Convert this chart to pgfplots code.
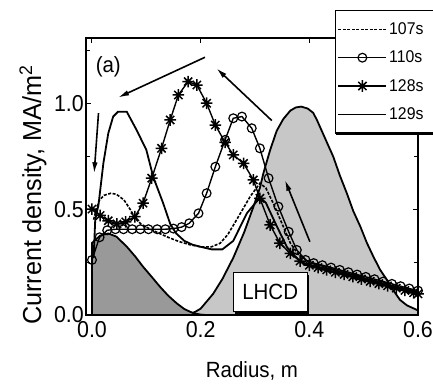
\documentclass[border=0pt]{standalone}
\usepackage{fontspec}
\setmainfont{Liberation Sans}[FakeStretch=0.93]
\newfontfamily\ylfont{Liberation Sans}[FakeStretch=0.97]
\usepackage{pgfplots}
\pgfplotsset{compat=1.18}
\usetikzlibrary{arrows.meta,shadows}

\pgfdeclareplotmark{star8}{%
  \pgfpathmoveto{\pgfqpoint{0pt}{\pgfplotmarksize}}\pgfpathlineto{\pgfqpoint{0pt}{-\pgfplotmarksize}}%
  \pgfpathmoveto{\pgfqpoint{\pgfplotmarksize}{0pt}}\pgfpathlineto{\pgfqpoint{-\pgfplotmarksize}{0pt}}%
  \pgfpathmoveto{\pgfqpoint{0.707\pgfplotmarksize}{0.707\pgfplotmarksize}}\pgfpathlineto{\pgfqpoint{-0.707\pgfplotmarksize}{-0.707\pgfplotmarksize}}%
  \pgfpathmoveto{\pgfqpoint{0.707\pgfplotmarksize}{-0.707\pgfplotmarksize}}\pgfpathlineto{\pgfqpoint{-0.707\pgfplotmarksize}{0.707\pgfplotmarksize}}%
  \pgfusepathqstroke}

\begin{document}
\begin{tikzpicture}
\begin{axis}[
  at={(0,0)}, anchor=south west,
  scale only axis, width=332pt, height=277pt,
  xmin=-0.011, xmax=0.6, ymin=0, ymax=1.308,
  clip=false,
  axis line style={line width=1.5pt},
  tick align=inside, tick style={line width=1pt, black},
  major tick length=5pt, minor tick length=4pt,
  xtick={0,0.2,0.4,0.6}, ytick={0,0.5,1.0},
  minor ytick={0.25,0.75,1.25},
  /pgf/number format/assume math mode=true,
  /pgf/number format/.cd, fixed, fixed zerofill, precision=1, /pgfplots/.cd,
  ticklabel style={font=\fontsize{23}{26}\selectfont},
  xticklabel style={inner sep=1pt, yshift=-5pt},
  yticklabel style={inner sep=1pt, xshift=-1pt},
  xlabel={Radius, m},
  ylabel={Current density, MA/m\textsuperscript{2}},
  xlabel style={font=\fontsize{22}{26}\selectfont, at={(axis description cs:0.5,-0.202)}, anchor=center},
  ylabel style={font=\ylfont\fontsize{26}{30}\selectfont, at={(axis description cs:-0.16,0.433)}, anchor=center},
  legend style={name=leg, at={(axis description cs:0.75,1.101)}, anchor=north west,
    font=\fontsize{17}{19}\selectfont, draw=black, line width=1.2pt, fill=white,
    row sep=11pt, inner xsep=2pt, inner ysep=10pt,
    cells={anchor=west}},
  legend image code/.code={\draw[mark repeat=2,mark phase=2,#1,line width=1.6pt] plot coordinates {(0pt,0pt) (24pt,0pt) (48pt,0pt)};},
]
% LHCD profiles (filled)
\addplot[draw=black, line width=1.8pt, fill=black!22, forget plot] coordinates {
(0.175,0) (0.19,0.015) (0.2,0.03) (0.223,0.1) (0.24,0.17) (0.26,0.27) (0.28,0.39) (0.297,0.51) (0.309,0.6) (0.3155,0.67) (0.328,0.78) (0.34,0.87) (0.352,0.925) (0.365,0.965) (0.375,0.98) (0.385,0.984) (0.397,0.975) (0.407,0.955) (0.414,0.921) (0.428,0.84) (0.444,0.748) (0.456,0.66) (0.469,0.575) (0.481,0.49) (0.494,0.417) (0.506,0.34) (0.518,0.275) (0.53,0.215) (0.543,0.165) (0.555,0.115) (0.567,0.071) (0.58,0.045) (0.598,0.024) (0.6,0.022)
} \closedcycle;
\addplot[draw=black, line width=1.8pt, fill=black!40, forget plot] coordinates {
(0,0.34) (0.015,0.375) (0.03,0.385) (0.045,0.37) (0.064,0.323) (0.08,0.275) (0.094,0.228) (0.11,0.18) (0.125,0.134) (0.14,0.092) (0.156,0.055) (0.17,0.028) (0.187,0.008) (0.2,0.002) (0.21,0)
} \closedcycle;

% 107s
\addplot[black, line width=1.6pt, dash pattern=on 3pt off 1.5pt] coordinates {
(0.003,0.45) (0.008,0.5) (0.013,0.54) (0.022,0.565) (0.035,0.575) (0.045,0.57) (0.059,0.543) (0.071,0.496) (0.08,0.455) (0.09,0.43) (0.1,0.415) (0.12,0.39) (0.14,0.367) (0.16,0.347) (0.18,0.332) (0.2,0.322) (0.22,0.322) (0.236,0.339) (0.25,0.38) (0.266,0.449) (0.28,0.51) (0.291,0.559) (0.309,0.622) (0.32,0.6) (0.335,0.52) (0.35,0.43) (0.365,0.34) (0.38,0.285) (0.4,0.25) (0.45,0.21) (0.5,0.175) (0.55,0.14) (0.6,0.108)
};
\addlegendentry{\makebox[50pt][l]{107s}}

% 110s
\addplot[black, line width=1.4pt, mark=o, mark size=4.4pt, mark options={fill=white, solid, line width=1.2pt}] coordinates {
(0,0.26) (0.014,0.367) (0.028,0.40) (0.043,0.405) (0.058,0.405) (0.074,0.405) (0.089,0.405) (0.104,0.405) (0.12,0.405) (0.135,0.405) (0.15,0.408) (0.165,0.415) (0.179,0.433) (0.196,0.48) (0.211,0.575) (0.227,0.70) (0.245,0.827) (0.26,0.929) (0.276,0.937) (0.294,0.882) (0.309,0.787) (0.325,0.646) (0.343,0.512) (0.362,0.393) (0.377,0.307) (0.393,0.26) (0.408,0.245) (0.424,0.235) (0.44,0.224) (0.456,0.213) (0.472,0.202) (0.488,0.191) (0.504,0.18) (0.52,0.169) (0.536,0.158) (0.552,0.147) (0.568,0.136) (0.584,0.125) (0.6,0.115)
};
\addlegendentry{110s}

% 128s
\addplot[black, line width=1.4pt, mark=star8, mark size=5.8pt, mark options={line width=1.5pt}] coordinates {
(0,0.5) (0.015,0.47) (0.03,0.445) (0.046,0.43) (0.062,0.44) (0.079,0.464) (0.094,0.528) (0.11,0.646) (0.128,0.787) (0.144,0.921) (0.159,1.039) (0.177,1.102) (0.193,1.086) (0.211,1.0) (0.227,0.897) (0.245,0.815) (0.26,0.756) (0.279,0.716) (0.297,0.638) (0.309,0.551) (0.328,0.425) (0.346,0.339) (0.365,0.291) (0.383,0.255) (0.4,0.235) (0.416,0.224) (0.432,0.213) (0.448,0.202) (0.464,0.192) (0.48,0.181) (0.496,0.17) (0.512,0.159) (0.528,0.148) (0.544,0.138) (0.56,0.127) (0.576,0.116) (0.592,0.105) (0.6,0.1)
};
\addlegendentry{128s}

% 129s
\addplot[black, line width=1.8pt] coordinates {
(0.003,0.27) (0.006,0.45) (0.012,0.52) (0.021,0.717) (0.03,0.858) (0.039,0.937) (0.048,0.96) (0.064,0.96) (0.082,0.874) (0.1,0.78) (0.113,0.65) (0.131,0.528) (0.144,0.43) (0.155,0.385) (0.17,0.35) (0.185,0.332) (0.2,0.322) (0.22,0.31) (0.24,0.31) (0.26,0.35) (0.285,0.48) (0.309,0.555) (0.32,0.53) (0.34,0.42) (0.359,0.32) (0.38,0.26) (0.396,0.235) (0.45,0.2) (0.5,0.168) (0.55,0.135) (0.6,0.104)
};
\addlegendentry{129s}

% annotations
\node[draw=black, line width=1.3pt, fill=white, minimum width=74pt, minimum height=39pt, inner sep=0pt,
  drop shadow={shadow xshift=2pt, shadow yshift=-2pt, fill=black, opacity=1},
  font=\fontsize{22}{26}\selectfont] at (axis cs:0.328,0.107) {LHCD};
\node[font=\fontsize{22}{26}\selectfont] at (axis cs:0.03,1.17) {(a)};
\draw[line width=1.6pt, -{Latex[length=11pt,width=5.5pt]}] (axis cs:0.012,0.953) -- (axis cs:0.004,0.669);
\draw[line width=1.6pt, -{Latex[length=11pt,width=5.5pt]}] (axis cs:0.208,1.217) -- (axis cs:0.048,1.027);
\draw[line width=1.6pt, -{Latex[length=11pt,width=5.5pt]}] (axis cs:0.331,0.918) -- (axis cs:0.229,1.165);
\draw[line width=1.6pt, -{Latex[length=11pt,width=5.5pt]}] (axis cs:0.401,0.346) -- (axis cs:0.355,0.638);
\end{axis}
\draw[line width=3.5pt] ([xshift=1pt]leg.south west) -- (leg.south east);
\pgfresetboundingbox
\useasboundingbox (-86pt,-68pt) rectangle (347pt,315pt);
\clip (-86pt,-68pt) rectangle (347pt,315pt);
\end{tikzpicture}
\end{document}
